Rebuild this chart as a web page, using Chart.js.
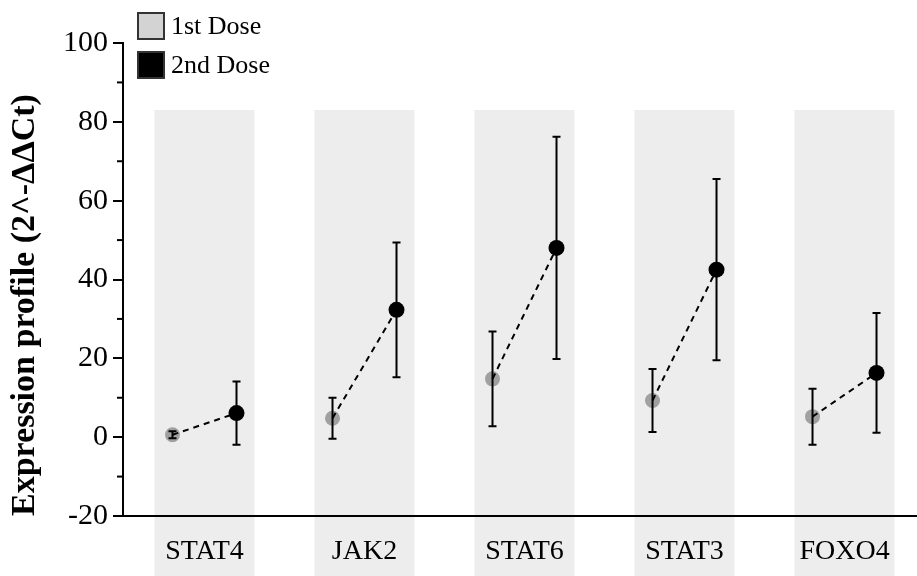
<!DOCTYPE html>
<html>
<head>
<meta charset="utf-8">
<title>Expression profile</title>
<script src="https://cdn.jsdelivr.net/npm/chart.js@4"></script>
<style>
  body { margin: 0; background: #fff; }
  #wrap { position: relative; width: 917px; height: 576px; }
  #legend {
    position: absolute; left: 137px; top: 6px;
    font-family: 'Liberation Serif', 'Times New Roman', serif; font-size: 26px; color: #000;
  }
  .leg-row { display: flex; align-items: center; height: 39px; }
  .leg-box { box-sizing: border-box; width: 28px; height: 28px; border: 2px solid #333; margin-right: 6px; }
</style>
</head>
<body>
<div id="wrap">
  <canvas id="chart" width="917" height="576"></canvas>
  <div id="legend"></div>
</div>
<script>
/* ──── Données ─────────────────────────────────────────── */

const genes      = ['STAT4', 'JAK2', 'STAT6', 'STAT3', 'FOXO4'];
const doseLabels = ['1st Dose', '2nd Dose'];
const dose1      = [0.6, 4.8, 14.8, 9.3, 5.2];
const sd1        = [0.9, 5.2, 12.0, 8.0, 7.1];
const dose2      = [6.1, 32.3, 48.0, 42.5, 16.3];
const sd2        = [8.0, 17.1, 28.2, 23.0, 15.2];
const yMinor     = [-10, 10, 30, 50, 70, 90];
const bandTop    = 83;

/* ──── Réglages ────────────────────────────────────────── */

const OFF       = 0.2;     // décalage des points autour du gène
const BAND_HALF = 0.3125;  // demi-largeur des bandes grises
const SERIF     = "'Liberation Serif', 'Times New Roman', serif";
const GREY_PT   = '#a0a0a0';

const pts = (vals, dx) => vals.map((v, i) => ({ x: i + 1 + dx, y: v }));

const links = genes.flatMap((g, i) => [
  { x: i + 1 - OFF, y: dose1[i] },
  { x: i + 1 + OFF, y: dose2[i] },
  { x: i + 1.5, y: null },
]);

/* ──── Plugins ─────────────────────────────────────────── */

const bands = {
  id: 'bands',
  beforeDraw(chart) {
    const { ctx, scales: { x, y } } = chart;
    const top = y.getPixelForValue(bandTop);
    ctx.save();
    ctx.fillStyle = '#ededed';
    genes.forEach((g, i) => {
      const l = x.getPixelForValue(i + 1 - BAND_HALF);
      const r = x.getPixelForValue(i + 1 + BAND_HALF);
      ctx.fillRect(l, top, r - l, chart.height - top);
    });
    ctx.restore();
  },
};

const errorBars = {
  id: 'errorBars',
  afterDatasetsDraw(chart) {
    const { ctx, scales: { x, y } } = chart;
    ctx.save();
    ctx.strokeStyle = '#000';
    ctx.lineWidth = 2;
    chart.data.datasets.forEach(ds => {
      if (!ds.errors) return;
      ds.data.forEach((p, i) => {
        const px  = x.getPixelForValue(p.x);
        const top = y.getPixelForValue(p.y + ds.errors[i]);
        const bot = y.getPixelForValue(p.y - ds.errors[i]);
        ctx.beginPath();
        ctx.moveTo(px, top);     ctx.lineTo(px, bot);
        ctx.moveTo(px - 4, top); ctx.lineTo(px + 4, top);
        ctx.moveTo(px - 4, bot); ctx.lineTo(px + 4, bot);
        ctx.stroke();
      });
    });
    ctx.restore();
  },
};

const minorTicks = {
  id: 'minorTicks',
  afterDraw(chart) {
    const { ctx, scales: { y } } = chart;
    ctx.save();
    ctx.strokeStyle = '#000';
    ctx.lineWidth = 2;
    yMinor.forEach(v => {
      const py = y.getPixelForValue(v);
      ctx.beginPath();
      ctx.moveTo(y.right - 6, py);
      ctx.lineTo(y.right, py);
      ctx.stroke();
    });
    ctx.restore();
  },
};

/* ──── Graphique ───────────────────────────────────────── */

const chart = new Chart(document.getElementById('chart'), {
  type: 'scatter',
  data: {
    datasets: [
      {
        label: doseLabels[0], data: pts(dose1, -OFF), errors: sd1,
        backgroundColor: GREY_PT, borderWidth: 0, pointRadius: 7.5, order: 2,
      },
      {
        label: doseLabels[1], data: pts(dose2, OFF), errors: sd2,
        backgroundColor: '#000', borderWidth: 0, pointRadius: 8, order: 2,
      },
      {
        type: 'line', data: links, showLine: true, spanGaps: false,
        borderColor: '#000', borderWidth: 2, borderDash: [6, 5], pointRadius: 0, order: 1,
      },
    ],
  },
  options: {
    responsive: false,
    animation: false,
    layout: { autoPadding: false, padding: { top: 43, right: 0, left: 0, bottom: 0 } },
    plugins: { legend: { display: false }, tooltip: { enabled: false } },
    scales: {
      x: {
        type: 'linear', min: 0.4906, max: 5.453,
        afterBuildTicks: s => { s.ticks = genes.map((g, i) => ({ value: i + 1 })); },
        afterFit: s => { s.height = 60; },
        grid: { display: false },
        border: { display: true, color: '#000', width: 2 },
        ticks: {
          color: '#000', padding: 11, font: { family: SERIF, size: 28 },
          callback: v => genes[v - 1],
        },
      },
      y: {
        min: -20, max: 100,
        afterFit: s => { s.width = 123; },
        grid: { drawOnChartArea: false, color: '#000', lineWidth: 2, tickLength: 10 },
        border: { display: true, color: '#000', width: 2 },
        ticks: { stepSize: 20, color: '#000', padding: 5, font: { family: SERIF, size: 30 } },
        title: {
          display: true, text: 'Expression profile (2^-ΔΔCt)', color: '#000', align: 'start',
          padding: { top: 5, bottom: 0 }, font: { family: SERIF, size: 34, weight: 'bold' },
        },
      },
    },
  },
  plugins: [bands, errorBars, minorTicks],
});

/* ──── Légende ─────────────────────────────────────────── */

document.getElementById('legend').innerHTML = chart.data.datasets.slice(0, 2).map((ds, i) =>
  `<div class="leg-row"><span class="leg-box" style="background:${i === 0 ? '#d3d3d3' : '#000'}"></span>${ds.label}</div>`
).join('');
</script>
</body>
</html>
